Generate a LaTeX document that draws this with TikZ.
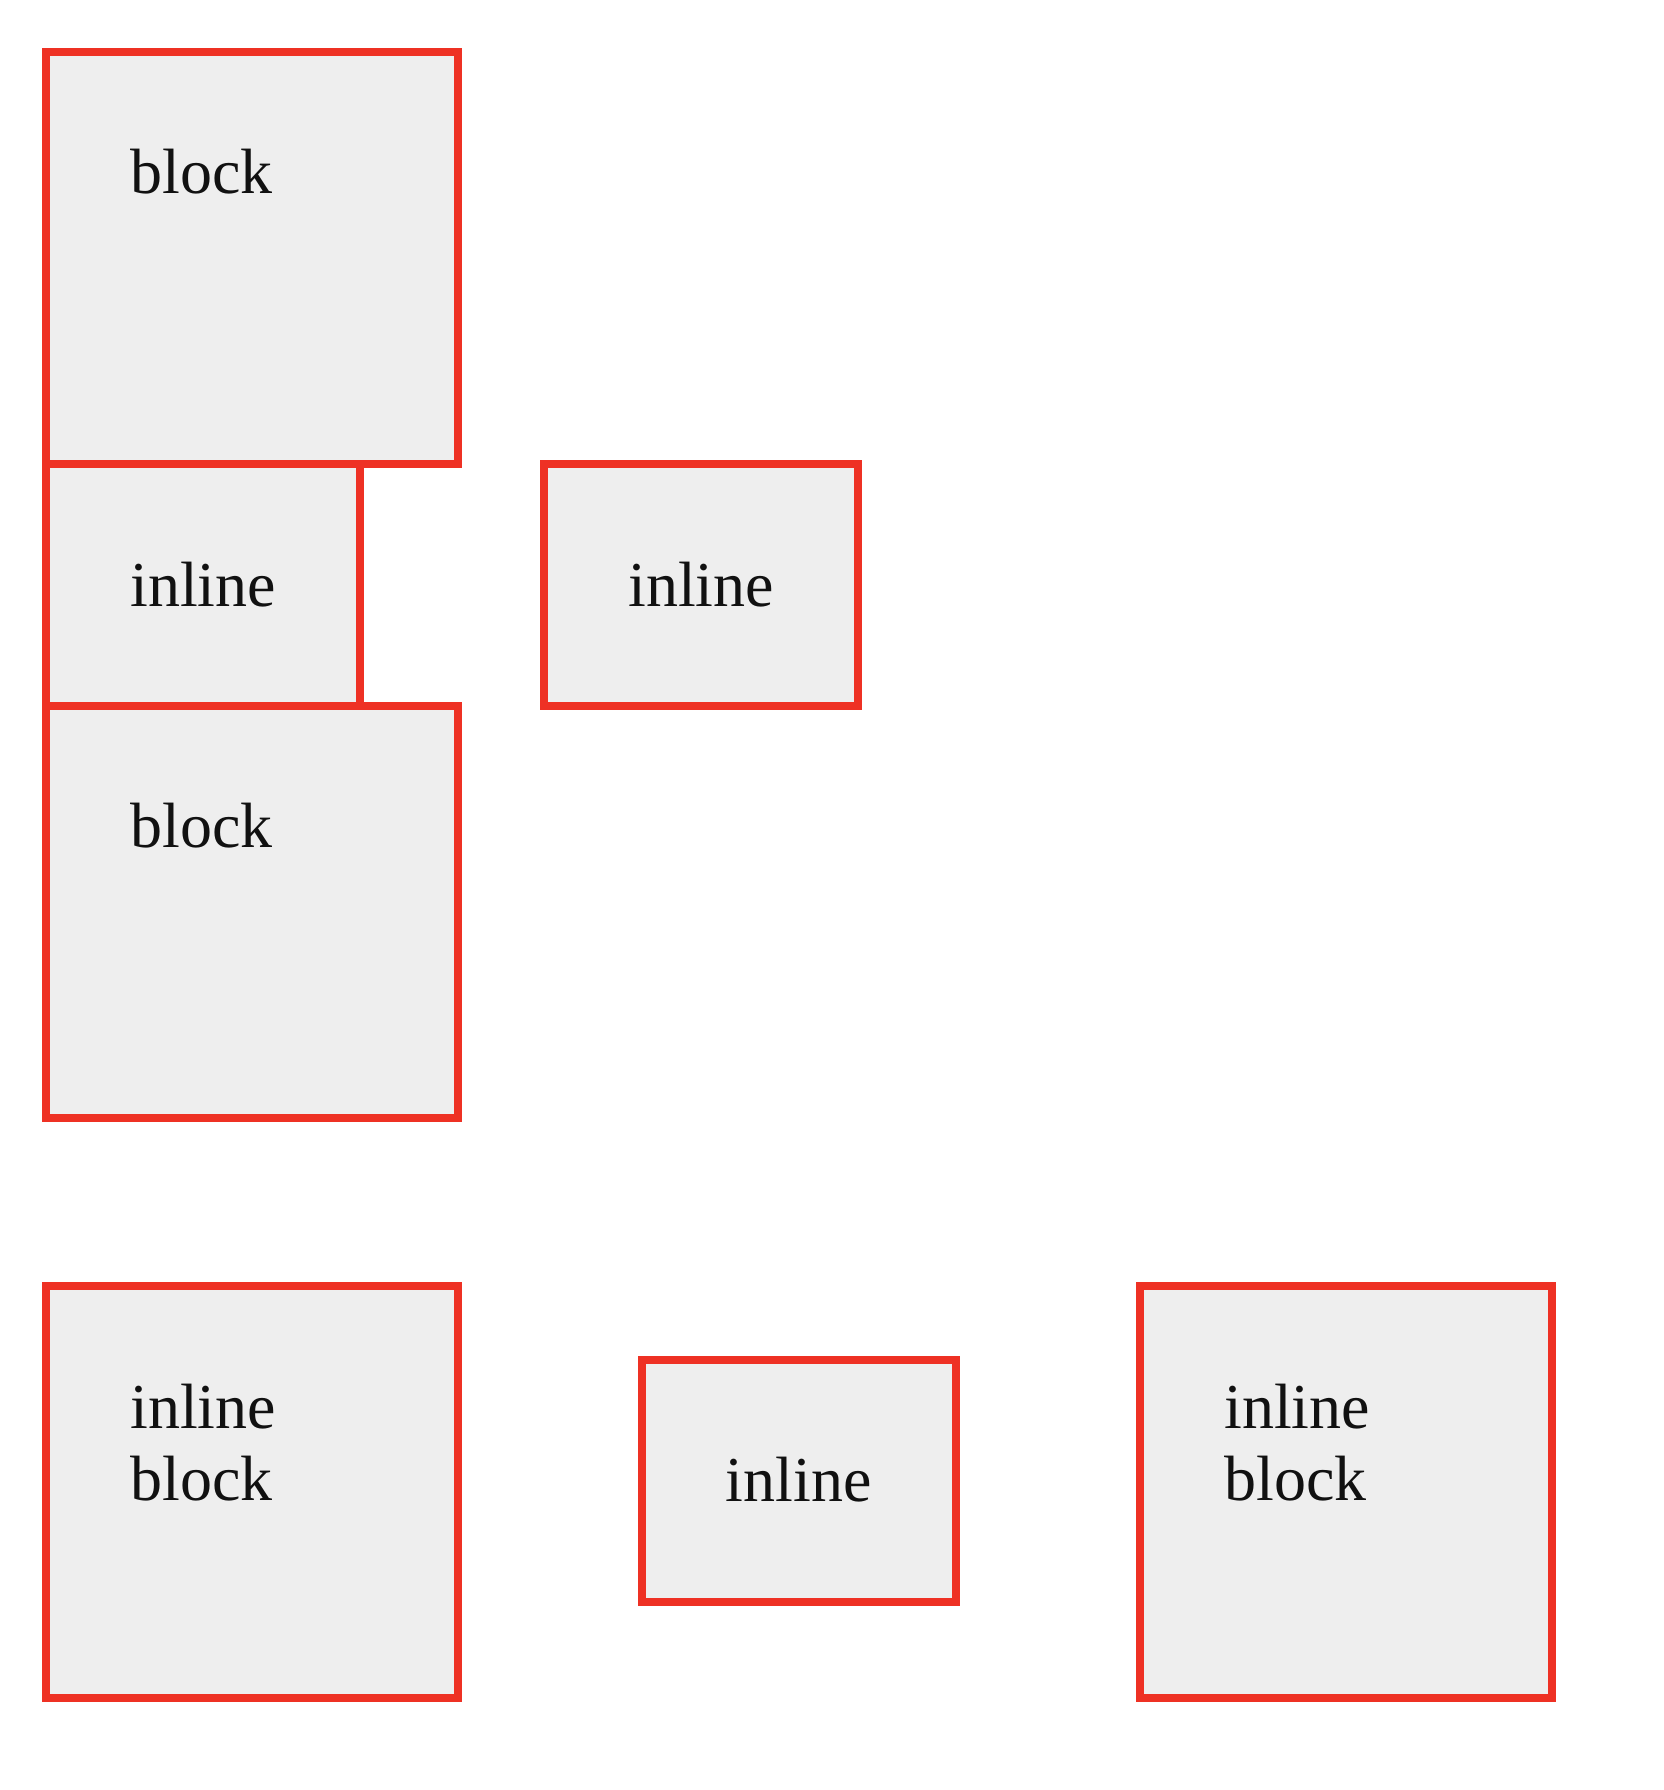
\documentclass[tikz,border=0pt]{standalone}
\usepackage{fontspec}
\setmainfont{Liberation Serif}
\definecolor{boxred}{HTML}{EE3124}
\definecolor{boxfill}{HTML}{EEEEEE}
\definecolor{ink}{HTML}{111111}
\begin{document}
\begin{tikzpicture}[x=0.5pt,y=-0.5pt,
  cssbox/.style={draw=boxred,fill=boxfill,line width=4pt},
  label/.style={anchor=base west,inner sep=0pt,text=ink,font=\fontsize{32}{36.8}\selectfont}]
\useasboundingbox (0,0) rectangle (1664,1790);
% top group
\draw[cssbox] (46,52) rectangle (458,464);
\draw[cssbox] (46,706) rectangle (458,1118);
\draw[cssbox] (46,464) rectangle (360,706);
\draw[cssbox] (544,464) rectangle (858,706);
\node[label] (t1) at (130,193.5) {block};
\node[label] (t2) at (130,606.5) {inline};
\node[label] (t3) at (628,606.5) {inline};
\node[label] (t4) at (130,847) {block};
% bottom group
\draw[cssbox] (46,1286) rectangle (458,1698);
\draw[cssbox] (642,1360) rectangle (956,1602);
\draw[cssbox] (1140,1286) rectangle (1552,1698);
\node[label] (t5) at (130,1428) {inline};
\node[label] (t6) at (130,1500.7) {block};
\node[label] (t7) at (725.5,1501.5) {inline};
\node[label] (t8) at (1224,1428) {inline};
\node[label] (t9) at (1224,1500.7) {block};
\end{tikzpicture}
\end{document}
